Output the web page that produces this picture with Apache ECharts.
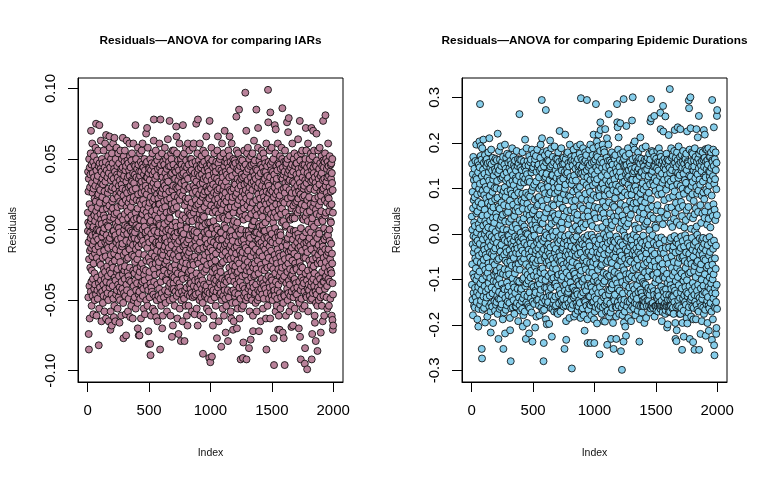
<!DOCTYPE html>
<html>
<head>
<meta charset="utf-8">
<script src="https://cdn.jsdelivr.net/npm/echarts@6/dist/echarts.min.js"></script>
<style>
  html, body { margin: 0; padding: 0; background: #fff; }
  #main { width: 768px; height: 480px; }
</style>
</head>
<body>
<div id="main"></div>
<script>
// residuals, in thousandths, index 1..2000 in order
var iarResid = [
12,-1,41,5,-48,27,-9,-74,36,-85,-21,50,3,-40,18,-63,44,-15,30,-2,
-27,39,-6,54,-44,6,70,-13,8,-37,46,-54,15,-29,33,-4,61,-19,26,-47,
40,-11,-35,1,48,-60,2,29,-24,52,-8,37,-42,10,-31,22,-50,45,-17,6,
-39,31,-14,58,-3,20,-46,75,13,-5,42,-61,0,35,-20,49,-34,9,-43,24,
16,-49,38,-7,56,0,25,-12,45,-82,-38,4,30,-56,74,-23,47,-1,19,-41,
-16,28,-45,11,43,-25,63,-36,7,33,-10,-65,41,4,-32,50,-5,-44,23,36,
47,-20,14,-52,32,-2,-39,-2,-47,56,10,-28,39,-15,1,-58,27,44,-35,8,
-30,61,-9,34,-42,19,-19,48,-63,67,5,-37,21,-4,42,-48,15,-8,-26,-11,
37,-45,3,26,-33,52,-13,-50,29,2,-65,40,-22,46,-8,17,66,-41,-29,58,
-6,7,-38,44,-71,9,-58,35,-18,50,-31,13,28,-46,38,-68,-3,54,-24,20,
30,-12,47,-40,15,-27,61,-1,-49,22,36,-1,-62,8,43,-17,-54,65,11,-34,
-22,41,-5,29,-65,-4,-36,50,4,-14,33,-46,25,-9,58,-30,12,-43,39,2,
45,-28,16,-56,37,-7,23,-39,54,-19,6,-48,31,1,-33,47,-11,27,-66,-41,
-2,35,-50,20,-23,56,-15,40,-44,9,26,-6,-61,43,17,-37,32,-27,50,-12,
19,-42,29,-10,44,65,-32,7,-52,36,-77,24,-18,52,-3,-45,38,0,-29,48,
-35,11,56,-26,3,-47,42,-16,28,-60,21,45,-75,-8,34,-39,16,63,-21,-43,
26,-3,2,49,-30,13,37,-58,8,-20,47,-33,19,-49,30,1,-13,42,-36,61,
-14,38,-27,22,52,-62,-9,31,-45,44,-1,16,-37,27,-54,10,49,5,35,-6,
54,-18,34,-2,5,28,-63,20,-11,40,-29,61,-4,-40,23,-50,7,33,-19,46,
-31,-6,-48,39,-2,-23,45,-36,74,12,-56,29,-14,50,-43,3,37,-28,21,-10,
8,-38,43,-21,1,-52,15,-70,58,-7,25,-33,46,-12,-46,-75,36,-17,2,41,
-44,-75,20,-30,54,8,38,-49,7,33,-26,48,-5,-63,18,41,-39,26,-10,56,
34,-24,-4,46,-37,11,61,0,-47,30,-8,21,-42,44,-28,14,-56,39,6,-32,
-18,50,-36,2,27,-60,42,-11,35,-3,18,-2,31,-29,47,68,-22,-50,12,37,
25,-40,48,72,-13,37,-54,9,-1,58,-6,29,-43,16,-72,40,-20,-81,44,-34,
-9,43,-30,19,-48,35,5,-23,-81,50,-38,-89,23,6,42,-61,28,-3,-41,11,
47,-17,31,-44,13,-25,54,-7,39,-56,20,2,45,1,-46,33,-12,63,78,-28,
-37,22,-1,41,-58,28,-19,47,-32,10,36,-48,17,-24,56,-10,30,-62,-9,6,
14,-50,38,-15,25,-39,49,-4,-65,32,-21,43,8,-2,22,-47,52,-9,18,-26,
-23,4,-42,61,-11,18,-31,44,3,-85,27,-49,78,12,-37,46,-16,24,-54,39,
41,-7,26,-45,54,-20,-70,15,-33,37,-2,-61,29,-18,48,1,9,33,-27,-14,
-48,20,-29,46,4,-7,31,-12,58,-43,16,-24,40,-6,-52,25,-35,50,-1,36,
29,-36,12,-22,43,-58,21,37,-9,-46,52,-15,64,-31,6,34,-44,0,-19,45,
-13,48,-40,27,-26,9,77,-50,8,-4,22,-38,45,-17,-61,13,39,-30,54,-8,
-1,-27,50,-11,18,-76,40,-42,3,28,-33,56,-20,-68,14,-49,31,-5,46,-38,
-42,15,-18,56,-34,24,-3,42,-54,19,-25,36,-8,-5,-44,5,-29,41,-14,30,
73,-21,2,66,-47,16,-36,54,-10,29,-63,44,-2,-31,23,49,-16,35,-41,-74,
11,-45,42,-19,30,-8,61,-38,21,-56,38,-14,26,-41,47,-1,-27,3,-79,50,
-26,33,-50,7,46,-32,-1,-44,39,-6,24,-65,52,-23,10,74,-35,43,-12,-47,
40,-3,-8,28,-49,54,-18,34,-79,17,-28,45,-11,-43,31,8,-54,22,-20,58,
-15,49,-24,38,2,-41,1,-61,44,-9,20,-34,-68,13,-46,61,36,-18,29,-31,
22,-54,46,-7,-30,6,-16,56,-39,11,-47,30,-4,41,-25,50,-13,-42,16,-36,
-38,10,-29,50,-45,19,42,-11,-58,0,-20,47,6,-33,26,-48,58,-3,-23,38,
31,-25,61,-40,12,-13,36,-47,-4,-1,-60,40,-19,29,-36,15,-8,48,-44,21,
-46,27,-12,75,34,-31,17,-56,45,-6,-2,-41,8,54,-22,-68,40,78,-15,-35,
18,-37,43,-24,3,49,-45,25,-14,38,-50,11,7,61,-9,32,-39,20,-61,46,
-20,44,-33,14,-48,28,-5,52,-27,39,-42,7,2,46,-36,23,-52,33,-88,10,
56,-13,25,-63,36,-22,9,-39,48,-30,16,-2,42,-47,27,-18,54,-6,4,-43,
-7,37,-46,20,-28,66,-40,30,-12,45,-56,19,35,-25,-1,-44,43,-10,28,-49,
27,5,50,-16,41,-58,13,-3,38,-91,22,-45,77,-20,47,-37,5,31,-94,-13,
-34,46,-8,29,-50,17,-24,58,-41,35,1,-90,24,-30,49,-15,1,-45,12,-68,
44,-19,32,-43,6,-61,40,-9,26,-35,54,-27,15,-48,37,-3,-38,21,45,-22,
-28,13,-54,41,-17,30,-36,48,2,-44,25,-11,-77,36,-31,56,-6,28,0,18,
66,-41,22,-5,47,-33,11,-65,34,-7,43,-38,8,29,-46,-14,50,-26,17,-39,
-12,52,-30,-2,-45,19,-2,-83,42,-24,14,-50,33,-7,61,-35,24,-18,40,-56,
37,-23,9,-47,28,-14,54,-39,18,-61,31,45,8,3,-43,70,22,-11,-36,48,
-49,26,-16,-73,41,1,34,-4,-54,20,-37,50,-10,39,-21,13,-45,47,-32,7,
15,-43,-79,30,-8,56,-34,23,-19,44,-48,10,37,-27,52,66,-13,-5,28,-2,
-36,42,-21,48,-58,16,-11,-1,-44,-63,27,-30,61,-16,20,-52,38,-5,-25,46,
23,-8,4,-71,-33,50,-43,12,29,-65,45,-20,6,-37,33,-13,49,-47,16,-29,
-45,32,-26,47,-4,24,-52,40,-17,2,80,-39,56,-12,26,-70,-31,43,-22,5,
36,-56,18,-30,54,-9,29,-46,42,-1,-35,21,85,-24,48,-41,11,-63,34,-15,
-3,45,-37,13,-49,-92,31,-28,50,-18,36,0,23,-8,-56,39,-20,47,-33,9,
49,-16,27,-40,-91,37,-54,-80,19,7,44,-7,15,-47,56,-26,32,-11,-42,25,
-21,38,-45,97,10,-32,46,-13,28,-50,22,70,-1,-92,41,-4,-29,54,-17,33,
17,-48,35,-23,58,-36,8,-15,43,-42,26,-1,-4,-84,-27,50,-9,30,-58,20,
-40,24,-6,45,-30,15,-47,-78,37,-19,52,-34,11,-44,33,1,46,-25,3,-50,
28,-11,54,-38,19,-61,-72,41,-27,6,-41,34,-16,47,63,-33,6,-4,38,-46,
-24,49,-32,13,-45,31,-2,-52,36,-14,43,-39,21,85,-28,10,-58,-2,-19,27,
42,-8,15,-50,30,-22,58,72,-43,25,-7,38,-31,4,-48,-72,33,-18,49,-10,
-16,2,-44,22,-3,52,-37,17,-65,40,-25,12,46,-42,29,-9,-35,56,-28,0,
31,-46,9,-19,44,3,26,-56,14,-38,54,-12,35,-1,-49,23,-40,41,-6,50,
-29,20,-1,36,-14,47,-42,5,30,-23,41,-63,18,-35,61,-85,-10,27,-45,13,
45,-5,38,-27,-54,22,-17,33,99,-6,76,14,-33,48,-20,31,-49,8,-38,26,
-12,56,-41,19,0,37,-63,83,-8,46,-26,28,-45,11,-15,42,-34,58,-3,-47,
21,-36,48,-9,27,-50,16,-22,41,-40,5,-28,50,9,35,-77,23,-96,-44,39,
-43,30,-18,74,-47,12,1,-31,54,-6,-58,71,25,-37,18,-21,45,-10,33,-54,
36,-24,9,-49,42,-14,27,-43,61,-2,-71,31,-28,47,-39,14,-61,-5,-17,22,
-8,46,-33,-71,24,-45,52,-19,-2,-56,18,-4,43,-30,11,-48,37,-23,58,-36,
28,5,15,-27,50,86,-12,36,-73,44,-35,20,-52,6,39,-18,-77,29,-46,48,
-33,19,-47,41,-96,26,-21,56,-9,33,2,12,-26,48,-61,3,30,-38,45,-14,
47,-11,37,76,-42,-7,-30,50,-50,22,-6,40,69,-24,-45,34,-16,79,-36,9,
-20,42,-58,28,-3,35,-39,18,-28,52,-47,7,0,-15,44,-33,23,-54,39,-69,
15,-44,26,-13,46,-32,61,-22,9,8,34,-7,-68,41,-29,17,-48,50,-1,-36,
-42,33,-17,54,-35,8,-56,29,-11,45,-24,19,-45,-1,-4,26,-38,13,47,-27,
39,-28,47,-46,20,-9,31,-41,52,-19,12,-61,36,64,-3,22,-13,43,-50,-70,
-6,27,-37,14,-52,40,-23,77,33,-76,-30,49,-12,25,-43,-92,1,-26,54,-8,
30,-49,18,-34,44,-15,56,-40,8,-27,37,-56,23,-5,46,-36,14,7,29,-20,
-38,41,-10,31,-44,24,-54,46,-95,17,-84,35,-20,50,-31,9,72,-47,-2,-13,
56,-9,33,-48,12,-36,44,-99,21,-16,40,-42,6,-29,61,-58,28,-8,36,-39,
0,47,-43,23,-22,38,-6,50,-47,13,-33,29,-11,45,-50,18,-25,54,-2,-40,
34,-14,72,-37,-92,4,-49,42,-74,8,-28,52,-21,35,-45,16,70,-35,44,-9,
-26,40,2,56,-40,19,-31,28,-61,37,-66,22,-17,46,-4,33,-44,-79,14,-52,
45,-20,30,68,-46,11,-37,49,-13,-6,-54,-86,39,-24,5,-41,56,-18,23,-33,
-11,36,-50,17,-1,43,-3,32,-43,58,-22,10,-35,47,-15,27,-48,38,-73,20,
24,-39,13,-24,52,-16,40,-54,7,-30,45,-9,28,6,-65,35,-12,77,-37,49,
-47,29,-20,44,-37,1,-61,36,-7,48,-27,21,-42,54,-14,10,81,-34,31,-23,
12,-33,50,-5,34,-48,26,-18,43,-40,19,-56,37,-2,48,-30,23,-4,61,-16,
-35,45,-14,22,-54,38,-26,13,0,30,-8,52,-37,17,-21,41,-49,6,-29,46,
27,5,36,-10,47,-31,18,-61,40,-17,33,-24,50,-64,-38,28,-71,12,-46,-68
];

var durResid = [
38,-112,154,-67,9,-145,92,-23,131,-179,56,-88,169,-5,-130,74,-41,118,-158,25,
-96,143,-31,80,-162,17,-119,106,-54,160,-8,-139,63,-76,125,-19,196,-101,45,-150,
120,-60,3,-128,87,-188,49,-15,158,-92,-38,135,-117,-204,70,-165,21,151,-48,99,
-134,12,203,-83,146,-22,110,285,-156,59,-109,171,193,-64,31,-147,89,-3,-124,163,
66,-253,127,-274,-43,188,-100,40,-167,95,-12,141,-71,18,207,-138,114,-57,156,-27,
-163,85,-35,132,-115,53,-1,173,-195,-79,28,-152,103,-46,161,-127,7,78,-93,149,
22,-140,164,-52,97,-9,-182,41,124,-86,155,-30,68,-121,14,179,-65,-108,136,-18,
-74,117,-159,210,-2,83,-136,157,-41,29,-97,145,-171,62,-217,107,-26,-153,185,50,
153,-7,-118,71,-44,139,-160,11,92,-131,167,-62,35,-196,119,-16,58,-104,-49,128,
-37,159,-90,24,-148,101,-68,-11,142,-169,76,-32,-123,165,4,-84,137,-156,44,-106,
100,-150,36,-81,162,-20,116,-137,-58,79,-176,220,147,-94,-6,133,-113,-231,60,-143,
-55,182,-128,13,-99,140,-165,55,-29,163,-75,19,-144,98,-39,192,-86,31,-161,121,
149,-24,69,-155,-110,37,-3,158,-133,86,-51,124,-188,42,-88,169,10,-253,-120,94,
-10,130,-173,63,-46,152,-122,-78,102,-14,196,-219,27,-141,81,-59,143,-167,-33,117,
167,-91,46,-40,135,-157,8,-107,176,-63,93,-17,-149,122,-125,48,-2,156,-80,-135,
-116,61,-4,173,-89,26,-152,144,-36,111,-185,73,-212,-61,160,-13,95,-280,138,-47,
33,-164,153,-22,-127,88,-70,6,-139,188,-45,116,-98,15,-162,129,-28,64,-111,169,
-146,107,-53,-15,151,-118,39,-176,84,-34,145,-87,161,-6,-130,51,-160,122,-69,20,
139,-42,-160,118,-77,182,-26,96,-152,11,-103,57,-32,149,-121,71,164,-9,-192,90,
-66,155,-14,49,-140,127,-105,-44,263,-157,30,163,-79,105,-18,-169,145,-56,2,-126,
113,-29,162,-121,73,-8,-148,140,-61,24,-165,88,-37,179,-100,-204,55,-142,126,-12,
-179,69,-97,34,159,-55,113,-134,16,-20,146,-171,80,-43,207,121,-115,7,-84,150,
-231,137,-67,90,-151,1,188,-109,44,-196,131,-25,66,-137,160,-90,-1,115,-155,54,
85,-103,150,-35,-161,121,-45,-219,171,-73,40,-129,114,-12,-164,82,-52,157,-96,29,
-21,163,-142,58,-81,-7,135,-173,95,-38,185,-112,19,-59,-237,142,-149,45,103,-65,
146,-56,9,-117,176,-92,52,-27,-154,108,-4,154,-135,75,-72,164,-206,30,-125,-43,
-129,18,171,-64,-36,115,-182,136,-83,12,-146,61,-19,185,-95,37,-113,147,-58,79,
64,-145,-32,152,-104,81,-13,-158,124,-47,99,-179,42,-110,139,-24,8,-132,167,-80,
-85,196,-123,28,-58,143,-162,105,-11,-100,294,72,210,-150,-40,133,-76,23,-169,155,
179,-16,60,-141,-280,98,-240,-34,148,-167,35,-87,122,-9,-118,173,-54,89,-147,3,
-102,125,-48,272,-188,47,157,-119,-3,132,-63,-199,182,-140,76,-28,-155,110,-38,162,
56,-150,103,-23,-93,176,-128,14,-60,160,-198,87,-44,118,-8,-136,144,-70,205,-115,
-30,148,-163,91,-50,-119,34,188,-86,22,-137,128,-226,65,-100,152,-165,4,129,-55,
169,-75,45,-154,-5,113,-97,62,-145,157,-25,-171,101,-66,192,-112,39,-42,88,-160,
-138,27,-109,140,-33,-157,165,-78,5,123,-52,150,-116,31,-173,76,-14,164,-95,108,
94,-176,133,-57,179,-20,-90,43,-135,102,-7,-153,158,-41,66,226,-124,120,-62,18,
-49,116,-14,-171,78,-132,149,-3,-101,188,-60,25,-147,139,-87,11,162,-35,-158,57,
153,-94,57,-31,-143,121,-68,167,-21,-160,87,-115,38,154,-76,-253,136,-10,-125,99,
-6,218,-157,108,-48,164,-111,74,-192,-233,131,-39,-85,176,-144,50,-64,143,-17,-131,
134,-26,179,-99,21,-128,-46,156,-153,84,-2,-120,148,-70,33,-185,117,-57,196,-92,
-161,82,-36,125,-107,-16,159,-146,52,-74,169,-28,109,-164,72,-296,-44,162,-118,10,
118,-62,150,-9,-156,93,-118,35,-83,185,-140,58,-13,-182,128,-90,161,-37,46,-136,
-88,171,-125,74,-31,143,-176,16,-49,117,-98,156,-153,-6,100,-127,31,192,-66,-159,
42,-133,96,-169,164,-45,7,-105,147,-24,-160,135,-72,85,-146,9,-112,150,-29,176,
-152,103,-18,196,-90,132,-185,61,-42,298,-135,167,-81,22,-14,144,-169,77,-103,133,
162,-23,-106,148,-164,55,-58,188,-129,14,114,-179,38,-52,127,-99,-8,158,-147,-213,
-117,136,-70,-26,179,-150,88,-35,161,-78,21,-125,173,-11,-158,107,-61,140,294,-42,
73,-188,124,-240,49,-114,-3,155,-96,38,-167,147,-40,101,-137,-19,185,-84,63,-155,
-27,151,-138,92,-64,196,118,-240,-157,26,-112,165,-47,75,-179,132,-2,-118,156,-73,
138,-86,17,-151,173,-39,-128,107,-62,188,-9,-149,218,85,-103,158,-188,44,-240,121,
-139,59,-171,130,-15,-94,163,-55,112,-161,34,285,-121,146,-30,-144,173,-67,80,203,
-197,120,-41,169,-104,12,-156,139,-79,57,-130,192,-22,218,-165,96,-50,-108,151,-6,
83,-265,158,-43,-117,182,-12,245,-159,228,101,-71,36,-148,163,-35,-96,127,-176,52,
-68,145,-129,15,-55,110,196,-162,70,-24,156,-109,-192,45,-86,185,-1,-140,99,-45,
179,-104,32,-157,84,-193,136,230,-30,-136,60,-11,147,-171,118,-64,25,-152,167,-89,
-7,210,-148,-244,129,-60,-169,94,-20,160,-123,8,-94,196,-42,263,110,-133,69,-182,
149,-35,87,-124,-3,161,-92,45,-153,115,-16,-173,139,-57,-231,13,-108,157,-79,28,
-120,179,-64,19,-163,106,-29,152,-111,63,-196,132,-47,96,-15,-253,169,-141,37,-91,
59,-147,120,-84,165,-18,-134,78,-52,173,-101,28,-161,143,-38,108,-182,-231,-6,136,
-162,93,-33,285,-109,245,154,-70,234,-150,40,-120,185,-13,-88,127,212,-158,50,-27,
104,-176,147,-58,11,-125,162,-40,-93,135,243,-141,66,-19,176,-258,-60,98,-146,24,
-48,124,-162,-299,82,-106,40,-179,157,-25,113,-131,179,-73,6,-155,-237,296,150,-195,
165,-80,29,-145,115,-4,-171,91,-55,149,-204,61,-113,171,-34,131,-224,-89,16,237,
-15,151,-101,52,-160,137,-65,-9,123,-149,85,-38,188,-126,23,-185,108,-50,140,-98,
126,-57,176,-118,35,-88,-150,156,-28,71,-167,100,-7,-132,148,-61,42,-192,119,-20,
-144,86,-13,142,-94,249,58,-160,119,-44,164,300,-115,-26,133,-79,196,-137,67,-2,
98,-164,137,-37,-122,185,-66,203,-152,18,-98,145,-179,104,-47,10,-133,167,-75,54,
-32,119,-154,69,-8,-143,95,-113,160,-56,138,-19,-169,81,-92,179,-40,-128,34,158,
143,-71,12,-158,167,-237,-28,127,-102,48,-188,154,-45,212,89,-123,-14,135,-159,73,
-97,165,-130,100,-51,136,-173,-20,58,-138,188,-78,111,-159,31,-106,156,-4,-145,97,
44,-159,-68,148,-110,17,-196,128,-35,163,-85,-143,69,-150,140,-26,-112,192,-56,22,
-185,104,-43,161,-16,-159,81,-127,142,-63,27,-146,167,-30,-94,118,-131,55,-119,151,
126,-24,-147,90,-159,176,-82,8,-134,155,-57,-173,109,-11,163,247,-123,40,-164,76,
296,-155,254,-70,131,-159,-37,182,-117,60,-159,138,-90,-3,-152,179,-48,113,-163,34,
-91,148,-20,-126,106,-134,169,259,-61,-182,122,-44,149,-159,18,-107,94,-159,160,-73,
13,-159,165,-98,52,-169,116,-25,-141,144,-86,182,-131,63,-159,-10,158,-144,86,-171,
-126,139,-56,-137,188,-101,33,-159,157,-22,-151,100,-159,127,-72,176,266,-165,230,-40,
169,-159,49,-116,-8,153,-147,88,-192,132,-33,-159,112,-66,160,-172,21,-124,281,-95,
225,-80,-159,146,-43,-128,119,-139,74,-159,165,-14,-97,152,-153,36,-176,258,141,-168,
-31,158,-122,-159,97,-134,176,-54,-159,129,-88,-206,42,-150,163,-108,-199,57,-145,120,
150,-159,-66,108,217,-172,161,-30,-135,79,-159,145,-100,318,-14,-171,134,-145,23,-113,
-157,115,-9,-159,188,-121,58,-49,167,-138,-75,140,-143,15,-164,103,-36,171,-92,-162,
83,-139,153,-28,-176,121,-62,33,-118,182,-150,-5,93,228,-84,156,-125,47,-196,-231,
-41,167,-104,68,-161,137,-19,-236,147,-212,26,-131,179,-74,109,-158,-12,162,234,-95,
134,-64,-146,123,-23,192,-113,57,-159,153,-38,84,-176,129,-53,19,-141,169,-82,230,
-176,105,-31,157,-129,70,-6,-163,141,-87,173,-120,39,-255,145,-52,-196,99,-16,159,
61,-142,182,-49,-103,132,-169,-226,88,-28,154,-135,14,-94,167,-60,118,-150,-3,143,
-117,164,-75,30,-156,112,-41,176,-128,52,-185,140,-11,-102,225,97,-197,158,-64,-138,
155,-21,-131,96,-173,59,150,-88,293,-161,276,-44,128,-115,185,-27,-231,79,-148,38,
-85,300,-56,232,126,-144,11,-182,160,-66,105,-139,179,-9,-124,146,-160,87,-35,114,
176,-108,34,-238,-50,-188,139,-163,72,-24,161,-82,148,-134,-255,43,-71,188,-117,7,
-149,122,-18,169,-95,56,-188,135,-39,103,230,-156,16,-63,158,-125,88,-2,-167,131,
-60,212,-137,48,-112,165,-29,95,-171,144,259,-85,-255,176,-45,-141,119,-10,156,-78,
108,-151,63,-220,182,-36,-120,150,-67,24,-159,138,-101,84,-192,160,-13,-143,45,-30,
-133,179,-46,115,-9,-162,91,-114,163,-55,228,-176,147,-22,76,-128,35,167,218,-89,
49,-167,128,-58,186,124,-224,-37,159,-130,97,-11,-155,142,-74,185,-104,20,-147,162,
-196,92,-25,152,-139,61,-70,188,-117,33,-158,-213,137,-48,106,-164,169,-7,-96,125,
136,-40,169,-121,14,-152,118,-82,47,179,-109,-19,145,-171,84,-58,-233,161,294,-130,
-68,158,-100,39,-188,127,-33,185,-142,65,-89,149,234,-15,-245,110,-160,-267,53,-120,
164,-54,120,-163,30,-131,179,-77,140,-26,-150,-220,98,-207,156,-112,41,259,-165,272
];

var indexTicks = [0, 500, 1000, 1500, 2000];
var iarTicks = [-0.10, -0.05, 0, 0.05, 0.10];
var durTicks = [-0.3, -0.2, -0.1, 0, 0.1, 0.2, 0.3];

var titles = ['Residuals\u2014ANOVA for comparing IARs', 'Residuals\u2014ANOVA for comparing Epidemic Durations'];
var fills = ['#B9829A', '#87CEEB'];

function toPoints(arr) {
    // x is the observation index, y is the residual
    return arr.map(function (v, i) { return [i + 1, v / 1000]; });
}

var font = 'Arial, "Liberation Sans", sans-serif';
var myChart = echarts.init(document.getElementById('main'), null, { renderer: 'canvas' });

function xAxisFor(gi) {
    return {
        gridIndex: gi,
        type: 'value',
        min: -79,
        max: 2080,
        name: 'Index',
        nameLocation: 'middle',
        nameGap: 66,
        nameTextStyle: { fontFamily: font, fontSize: 10.5, color: '#111' },
        splitLine: { show: false },
        axisLine: { show: true, onZero: false, lineStyle: { color: '#000', width: 1 } },
        axisTick: { show: true, customValues: indexTicks, length: 10, lineStyle: { color: '#000', width: 1 } },
        axisLabel: {
            customValues: indexTicks, margin: 21, fontFamily: font, fontSize: 15, color: '#000',
            formatter: function (v) { return String(v); }
        }
    };
}

function yAxisFor(gi, lo, hi, ticks, digits) {
    return {
        gridIndex: gi,
        type: 'value',
        min: lo,
        max: hi,
        name: 'Residuals',
        nameLocation: 'middle',
        nameGap: 59,
        nameTextStyle: { fontFamily: font, fontSize: 10.5, color: '#111' },
        splitLine: { show: false },
        axisLine: { show: true, onZero: false, lineStyle: { color: '#000', width: 1 } },
        axisTick: { show: true, customValues: ticks, length: 10, lineStyle: { color: '#000', width: 1 } },
        axisLabel: {
            customValues: ticks,
            rotate: 90,
            margin: 20,
            fontFamily: font,
            fontSize: 15,
            color: '#000',
            formatter: function (v) { return (Math.abs(v) < 1e-9 ? 0 : v).toFixed(digits); }
        }
    };
}

var option = {
    animation: false,
    backgroundColor: '#fff',
    title: [
        { text: titles[0], left: 210.5, top: 35, textAlign: 'center', padding: 0,
          textStyle: { fontFamily: font, fontSize: 11.8, fontWeight: 'bold', color: '#000' } },
        { text: titles[1], left: 594.5, top: 35, textAlign: 'center', padding: 0,
          textStyle: { fontFamily: font, fontSize: 11.8, fontWeight: 'bold', color: '#000' } }
    ],
    grid: [
        { left: 78, top: 78, width: 265, height: 304, show: true, borderColor: '#000', borderWidth: 1, backgroundColor: 'transparent' },
        { left: 462, top: 78, width: 265, height: 304, show: true, borderColor: '#000', borderWidth: 1, backgroundColor: 'transparent' }
    ],
    xAxis: [xAxisFor(0), xAxisFor(1)],
    yAxis: [
        yAxisFor(0, -0.108, 0.1074, iarTicks, 2),
        yAxisFor(1, -0.3257, 0.3424, durTicks, 1)
    ],
    series: [
        {
            type: 'scatter', xAxisIndex: 0, yAxisIndex: 0,
            data: toPoints(iarResid),
            symbol: 'circle', symbolSize: 7,
            itemStyle: { color: fills[0], borderColor: '#000', borderWidth: 0.8, opacity: 1 },
            emphasis: { disabled: true },
            silent: true
        },
        {
            type: 'scatter', xAxisIndex: 1, yAxisIndex: 1,
            data: toPoints(durResid),
            symbol: 'circle', symbolSize: 7,
            itemStyle: { color: fills[1], borderColor: '#000', borderWidth: 0.8, opacity: 1 },
            emphasis: { disabled: true },
            silent: true
        }
    ]
};
myChart.setOption(option);
</script>
</body>
</html>
